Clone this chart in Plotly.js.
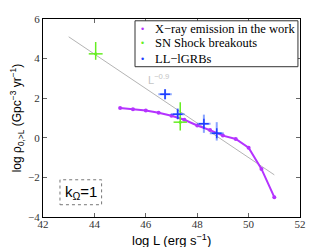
<!DOCTYPE html>
<html>
<head>
<meta charset="utf-8">
<script src="https://cdn.plot.ly/plotly-3.0.1.min.js"></script>
<style>html,body{margin:0;padding:0;background:#fff;}#chart{width:332px;height:247px;}</style>
</head>
<body>
<div id="chart"></div>
<script>
// X-ray emission in the work
var xrayX = [45, 45.5, 46, 46.5, 47, 47.5, 48, 48.5, 49, 49.5, 50, 50.5, 51];
var xrayY = [1.50, 1.44, 1.38, 1.26, 1.11, 0.91, 0.62, 0.39, 0.11, -0.06, -0.50, -1.57, -3.00];
// SN shock breakouts
var snX = [44.05, 47.34];
var snY = [4.24, 0.79];
var snErrYPlus = [0.60, 1.00];
var snErrYMinus = [0.30, 0.42];
var snErrX = [0.27, 0.26];
// LL-lGRBs
var grbX = [46.75, 47.24, 48.26, 48.76];
var grbY = [2.20, 1.19, 0.71, 0.23];
var grbErrYPlus = [0.25, 0.30, 0.46, 0.56];
var grbErrYMinus = [0.25, 0.24, 0.46, 0.37];
var grbErrX = [0.26, 0.27, 0.26, 0.27];
// L^-0.9 reference line
var refX = [43, 51];
var refY = [5.10, -1.87];
// ticks
var xTicks = [42, 44, 46, 48, 50, 52];
var yTicks = [-4, -2, 0, 2, 4, 6];
var legendLabels = ['X\u2212ray emission in the work', 'SN Shock breakouts', 'LL\u2212lGRBs'];

var purple = '#b533ff', green = '#66ee22', blue = '#1f3dff';

var traces = [
  {x: refX, y: refY, mode: 'lines', line: {color: '#b4b4b4', width: 1}, showlegend: false, hoverinfo: 'skip'},
  {x: xrayX, y: xrayY, mode: 'lines+markers', name: legendLabels[0],
   line: {color: purple, width: 2}, marker: {color: purple, size: 4}, showlegend: false},
  {x: snX, y: snY, mode: 'markers', name: legendLabels[1],
   marker: {color: green, size: 3},
   error_y: {type: 'data', symmetric: false, array: snErrYPlus, arrayminus: snErrYMinus, color: green, thickness: 1.5, width: 0},
   error_x: {type: 'data', array: snErrX, color: green, thickness: 1.5, width: 0}, showlegend: false},
  {x: grbX, y: grbY, mode: 'markers', name: legendLabels[2],
   marker: {color: blue, size: 7, symbol: 'cross-thin', line: {color: blue, width: 1.5}},
   error_y: {type: 'data', symmetric: false, array: grbErrYPlus, arrayminus: grbErrYMinus, color: 'rgba(40,90,255,0.55)', thickness: 2, width: 0},
   error_x: {type: 'data', array: grbErrX, color: 'rgba(40,90,255,0.55)', thickness: 2, width: 0}, showlegend: false}
];

var legY = [0.949, 0.877, 0.800];
var legColors = [purple, green, blue];
var annotations = [
  {x: 46.0, y: 2.95, xref: 'x', yref: 'y', text: 'L<sup>\u22120.9</sup>', showarrow: false,
   xanchor: 'left', yanchor: 'middle', font: {family: 'Liberation Sans', size: 11, color: '#c4c4c4'}},
  {x: 43.47, y: -2.75, xref: 'x', yref: 'y', text: 'k<sub>\u03a9</sub>=1', showarrow: false,
   xanchor: 'center', yanchor: 'middle', font: {family: 'Liberation Sans', size: 15, color: '#000'}},
  {x: 0.5, y: -0.068, xref: 'paper', yref: 'paper', text: 'log L (erg s<sup>\u22121</sup>)', showarrow: false,
   xanchor: 'center', yanchor: 'top', font: {family: 'Liberation Sans', size: 13, color: '#000'}},
  {x: -0.10, y: 0.5, xref: 'paper', yref: 'paper', text: 'log \u03c1<sub>0,>L</sub> (Gpc<sup>\u22123</sup> yr<sup>\u22121</sup>)', showarrow: false,
   xanchor: 'center', yanchor: 'middle', textangle: -90, font: {family: 'Liberation Sans', size: 12, color: '#000'}}
];
for (var i = 0; i < legendLabels.length; i++) {
  annotations.push({x: 0.428, y: legY[i], xref: 'paper', yref: 'paper', text: legendLabels[i], showarrow: false,
    xanchor: 'left', yanchor: 'middle', font: {family: 'Liberation Serif', size: 12.5, color: '#000'}});
  annotations.push({x: 0.389, y: legY[i], xref: 'paper', yref: 'paper', text: '\u2022', showarrow: false,
    xanchor: 'center', yanchor: 'middle', font: {family: 'Liberation Sans', size: 9, color: legColors[i]}});
}

var shapes = [
  {type: 'rect', xref: 'paper', yref: 'paper', x0: 0.358, x1: 0.992, y0: 0.759, y1: 0.991,
   line: {color: '#333', width: 1}, fillcolor: '#fff', layer: 'above'},
  {type: 'rect', xref: 'x', yref: 'y', x0: 42.66, x1: 44.28, y0: -3.38, y1: -2.12,
   line: {color: '#777', width: 1, dash: 'dot'}, fillcolor: 'rgba(0,0,0,0)'}
];

var axisCommon = {showline: true, mirror: 'ticks', linecolor: '#000', linewidth: 1, ticks: 'inside', ticklen: 4,
  tickcolor: '#666', showgrid: false, zeroline: false, tickfont: {family: 'Liberation Serif', size: 11, color: '#333'}};

var layout = {
  width: 332, height: 247, margin: {l: 43, r: 32, t: 19, b: 30},
  paper_bgcolor: '#fff', plot_bgcolor: '#fff', showlegend: false,
  xaxis: Object.assign({}, axisCommon, {range: [42, 52], tickvals: xTicks, ticktext: xTicks.map(String), ticklabelstandoff: -3}),
  yaxis: Object.assign({}, axisCommon, {range: [-4, 6], tickvals: yTicks, ticktext: yTicks.map(function(v){return v < 0 ? '\u2212' + (-v) : String(v);})}),
  annotations: annotations, shapes: shapes
};

Plotly.newPlot('chart', traces, layout, {displayModeBar: false, staticPlot: true});
</script>
</body>
</html>
